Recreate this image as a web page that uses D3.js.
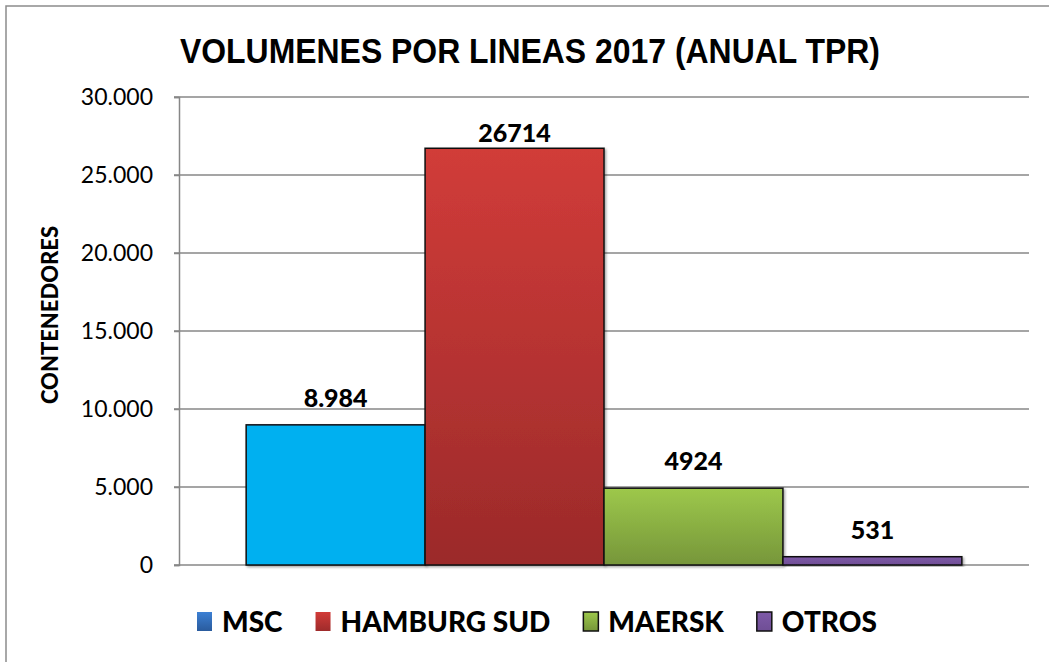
<!DOCTYPE html>
<html>
<head>
<meta charset="utf-8">
<script src="https://cdn.jsdelivr.net/npm/d3@7"></script>
<style>
  body { margin: 0; background: #fff; }
  svg { display: block; }
</style>
</head>
<body>
<div id="chart"></div>
<script>
// data
var series = ["MSC", "HAMBURG SUD", "MAERSK", "OTROS"];
var values = [8984, 26714, 4924, 531];
var valueLabels = ["8.984", "26714", "4924", "531"];
var yTicks = [0, 5000, 10000, 15000, 20000, 25000, 30000];
var yTickLabels = ["0", "5.000", "10.000", "15.000", "20.000", "25.000", "30.000"];

var W = 1049, H = 662;
var margin = {top: 97, right: 20, bottom: 97, left: 179};
var width = 1029 - margin.left;
var height = 565 - margin.top;

var svg = d3.select("#chart").append("svg").attr("width", W).attr("height", H);
var defs = svg.append("defs");

function grad(id, top, bottom) {
    var g = defs.append("linearGradient").attr("id", id).attr("x1", 0).attr("y1", 0).attr("x2", 0).attr("y2", 1);
    g.append("stop").attr("offset", "0%").attr("stop-color", top);
    g.append("stop").attr("offset", "100%").attr("stop-color", bottom);
}
grad("g-msc", "#00B0F0", "#00B0F0");
grad("g-ham", "#D13C39", "#9B2A2A");
grad("g-mae", "#9DC84B", "#76963A");
grad("g-otr", "#7E5AA8", "#6F4E95");
grad("l-msc", "#3C80D4", "#2A5B9D");
grad("l-ham", "#D23B38", "#9E2B2B");
var barFill = ["url(#g-msc)", "url(#g-ham)", "url(#g-mae)", "url(#g-otr)"];
var legendFill = ["url(#l-msc)", "url(#l-ham)", "url(#g-mae)", "url(#g-otr)"];
var legendStroke = ["none", "none", "#111", "#111"];

var shadow = defs.append("filter").attr("id", "shadow").attr("x", "-10%").attr("y", "-10%").attr("width", "130%").attr("height", "130%");
shadow.append("feDropShadow").attr("dx", 1.5).attr("dy", 1.5).attr("stdDeviation", 1.2).attr("flood-color", "#000").attr("flood-opacity", 0.35);

// outer chart frame (extends past the picture on right/bottom)
svg.append("rect").attr("x", 6).attr("y", 6).attr("width", W + 20).attr("height", H + 20)
    .attr("fill", "none").attr("stroke", "#8c8c8c").attr("stroke-width", 1.5);

// title (narrow bold face, squeezed to the original width)
svg.append("text").attr("x", 180).attr("y", 63)
    .attr("textLength", 700).attr("lengthAdjust", "spacingAndGlyphs")
    .style("font-family", "'Liberation Sans Narrow', 'Arial Narrow', 'Liberation Sans', sans-serif")
    .style("font-weight", "bold").style("font-size", "35px").attr("fill", "#000")
    .text("VOLUMENES POR LINEAS 2017 (ANUAL TPR)");

var g = svg.append("g").attr("transform", `translate(${margin.left},${margin.top})`);

var y = d3.scaleLinear().domain([0, 30000]).range([height, 0]);
var gap = width * 0.079;
var x = d3.scaleBand().domain(series).range([gap, width - gap]).padding(0);

// gridlines
g.selectAll(".grid").data(yTicks).enter().append("line")
    .attr("x1", -5).attr("x2", width)
    .attr("y1", d => y(d)).attr("y2", d => y(d))
    .attr("stroke", "#878787").attr("stroke-width", 1.5);

// left axis
var yAxis = g.append("g")
    .call(d3.axisLeft(y).tickValues(yTicks).tickSize(5).tickPadding(21).tickFormat((d, i) => yTickLabels[i]));
yAxis.select(".domain").attr("stroke", "#878787").attr("stroke-width", 1.5);
yAxis.selectAll(".tick line").attr("stroke", "#878787").attr("stroke-width", 1.5);
yAxis.selectAll(".tick text")
    .style("font-family", "Lato, 'Open Sans', sans-serif").style("font-size", "23px").attr("fill", "#000");

// bars
g.selectAll(".bar").data(values).enter().append("rect").attr("class", "bar")
    .attr("x", (d, i) => x(series[i]))
    .attr("y", d => y(d))
    .attr("width", x.bandwidth())
    .attr("height", d => height - y(d))
    .attr("fill", (d, i) => barFill[i])
    .attr("stroke", "#111").attr("stroke-width", 1.5)
    .attr("filter", "url(#shadow)");

// data labels
g.selectAll(".lbl").data(values).enter().append("text").attr("class", "lbl")
    .attr("x", (d, i) => x(series[i]) + x.bandwidth() / 2)
    .attr("y", (d, i) => y(d) - (i === 1 ? 6 : 18))
    .attr("text-anchor", "middle")
    .style("font-family", "Lato, 'Open Sans', sans-serif").style("font-weight", "900").style("font-size", "25px")
    .attr("fill", "#000")
    .text((d, i) => valueLabels[i]);

// y axis title
svg.append("text")
    .attr("transform", "translate(58,315) rotate(-90)")
    .attr("text-anchor", "middle")
    .style("font-family", "Lato, 'Open Sans', sans-serif").style("font-weight", "900").style("font-size", "22px")
    .attr("fill", "#000")
    .text("CONTENEDORES");

// legend
var legend = svg.append("g").attr("transform", "translate(197,621)");
var lx = 0;
series.forEach(function(s, i) {
    var item = legend.append("g").attr("transform", `translate(${lx},0)`);
    item.append("rect").attr("x", 0).attr("y", -9).attr("width", 15).attr("height", 19)
        .attr("fill", legendFill[i]).attr("stroke", legendStroke[i]).attr("stroke-width", 1.5);
    var t = item.append("text").attr("x", 25).attr("y", 10.5)
        .style("font-family", "Lato, 'Open Sans', sans-serif").style("font-weight", "900").style("font-size", "28px")
        .attr("fill", "#000").text(s);
    lx += 25 + t.node().getComputedTextLength() + 33;
});
</script>
</body>
</html>
